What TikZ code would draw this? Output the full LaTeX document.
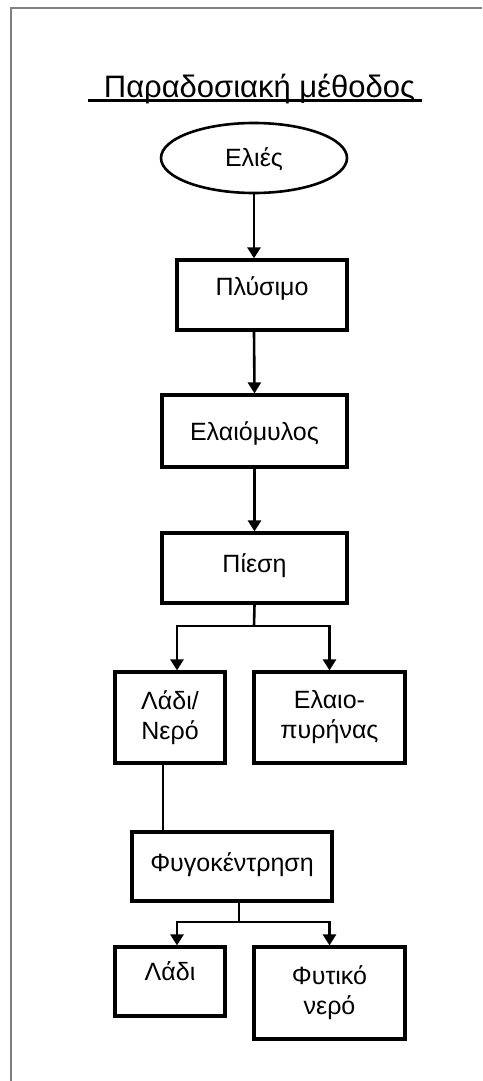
\documentclass[tikz,border=0pt]{standalone}
\usepackage{fontspec}
\setmainfont{Liberation Sans}
\usetikzlibrary{arrows.meta,shapes.geometric}
\begin{document}
\begin{tikzpicture}[x=1pt,y=-1pt,
  box/.style={draw, line width=3.2pt, inner sep=0pt, align=center, text height=18pt, font=\fontsize{25}{30}\selectfont},
  box2/.style={draw, line width=3.2pt, inner sep=0pt, align=center, font=\fontsize{25}{30}\selectfont},
  arr/.style={line width=2.6pt, -{Triangle[width=13pt,length=11pt]}},
  ln/.style={line width=2.6pt}]
\useasboundingbox (0,0) rectangle (482,1081);
\draw[gray, line width=2.2pt] (11,1081) -- (11,8) -- (482,8);
\node[anchor=base, font=\fontsize{31}{36}\selectfont, inner sep=0pt] (title) at (259.5,97) {Παραδοσιακή μέθοδος};
\draw[line width=2.4pt] ([yshift=-3.5pt]title.base -| 88,0) coordinate (u1) -- ([yshift=-3.5pt]title.base -| 422,0);
\node[draw, ellipse, line width=2.6pt, minimum width=186pt, minimum height=70pt, inner sep=0pt, text height=18pt, text depth=2pt, font=\fontsize{25}{30}\selectfont] (elies) at (254,158) {Ελιές};
\node[box, minimum width=170pt, minimum height=70pt, text depth=18pt] (plysimo) at (262,295) {Πλύσιμο};
\node[box, minimum width=185pt, minimum height=72pt, text depth=0pt] (elaio) at (254.5,431) {Ελαιόμυλος};
\node[box, minimum width=185pt, minimum height=70pt, text depth=10pt] (piesi) at (254.5,568) {Πίεση};
\node[box2, minimum width=110pt, minimum height=91pt] (ladinero) at (170,717.5) {Λάδι/\\Νερό};
\node[box2, minimum width=151pt, minimum height=91pt] (pyrinas) at (329.5,717.5) {Ελαιο-\\πυρήνας};
\node[box, minimum width=200pt, minimum height=69pt, text depth=8pt] (fygo) at (232,866.5) {Φυγοκέντρηση};
\node[box, minimum width=110pt, minimum height=69pt, text depth=21pt] (ladi) at (170,981.5) {Λάδι};
\node[box2, minimum width=151pt, minimum height=92pt] (fytiko) at (329.5,993) {Φυτικό\\νερό};
% connectors
\draw[arr] (elies.south) -- (elies.south |- plysimo.north);
\draw[arr] (plysimo.south -| elies.south) -- (elaio.north);
\draw[arr] (elaio.south) -- (piesi.north);
\coordinate (j1) at (254,626);
\draw[ln] (piesi.south) -- (j1);
\draw[arr] (j1) -| ([xshift=7pt]ladinero.north);
\draw[arr] (j1) -| (pyrinas.north);
\draw[ln] ([xshift=-7pt]ladinero.south) -- ([xshift=-7pt]ladinero.south |- fygo.north);
\coordinate (j2) at (239,922);
\draw[ln] ([xshift=7pt]fygo.south) -- (j2);
\draw[arr] (j2) -| ([xshift=7pt]ladi.north);
\draw[arr] (j2) -| (fytiko.north);
\end{tikzpicture}
\end{document}
